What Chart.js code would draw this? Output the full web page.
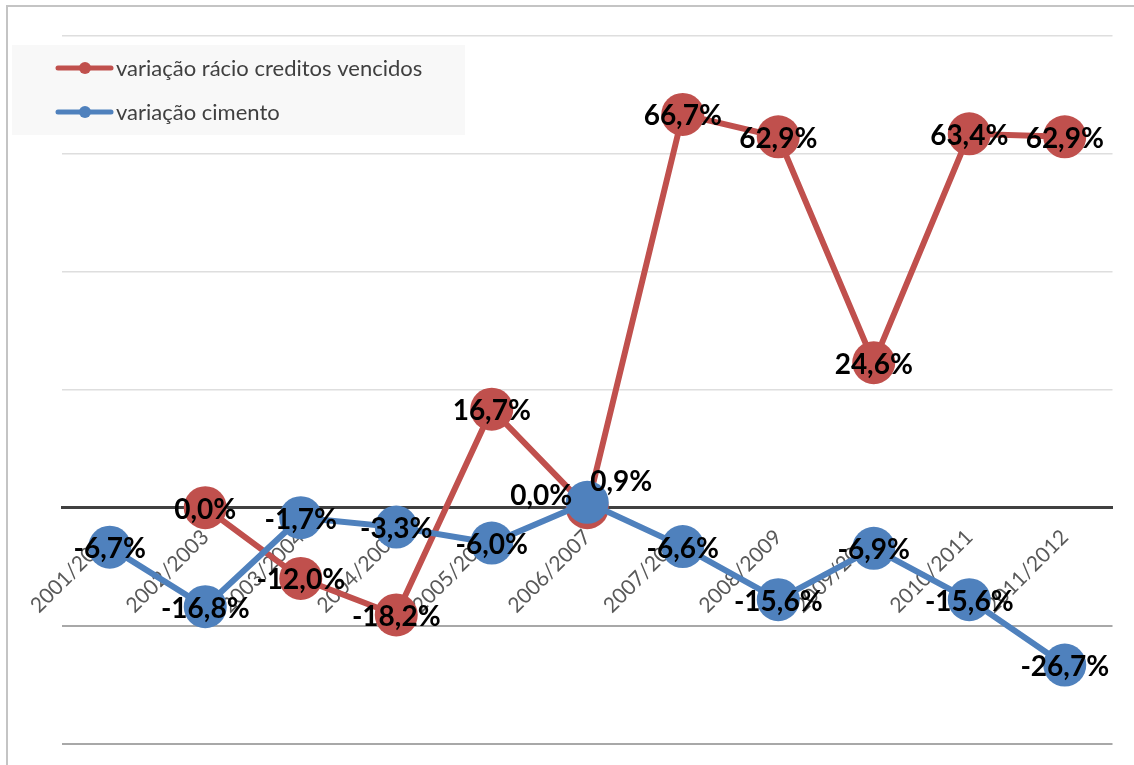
<!DOCTYPE html>
<html>
<head>
    <title>Variação</title>
    <script src="https://cdn.jsdelivr.net/npm/chart.js"></script>
    <style>
        body { margin: 0; background: #fff; }
    </style>
</head>
<body>
    <canvas id="grafico" width="1134" height="765"></canvas>

    <script>
        // Dados
        const anos = ['2001/2002', '2002/2003', '2003/2004', '2004/2005', '2005/2006', '2006/2007',
                      '2007/2008', '2008/2009', '2009/2010', '2010/2011', '2011/2012'];
        const creditosVencidos = [null, 0.0, -12.0, -18.2, 16.7, 0.0, 66.7, 62.9, 24.6, 63.4, 62.9];
        const cimento = [-6.7, -16.8, -1.7, -3.3, -6.0, 0.9, -6.6, -15.6, -6.9, -15.6, -26.7];
        const nomes = ['variação rácio creditos vencidos', 'variação cimento'];

        const vermelho = '#C0504D';
        const azul = '#4F81BD';

        // deslocamento manual de alguns rótulos que se sobrepõem
        const ajusteRotulos = { '0-5': [-46, -12], '1-5': [34, -20] };

        const fmt = v => v.toFixed(1).replace('.', ',') + '%';

        // moldura exterior
        const moldura = {
            id: 'moldura',
            beforeDraw(chart) {
                const c = chart.ctx;
                c.save();
                c.fillStyle = '#fff';
                c.fillRect(0, 0, chart.width, chart.height);
                c.strokeStyle = '#C4C4C4';
                c.lineWidth = 2;
                c.strokeRect(7, 6, chart.width + 20, chart.height + 20);
                c.restore();
            }
        };

        // rótulos dos valores, centrados nos pontos
        const rotulos = {
            id: 'rotulos',
            afterDatasetsDraw(chart) {
                const c = chart.ctx;
                c.save();
                c.font = 'bold 28px Lato, "DejaVu Sans", sans-serif';
                c.fillStyle = '#000';
                c.textAlign = 'center';
                c.textBaseline = 'middle';
                chart.data.datasets.forEach((ds, di) => {
                    const meta = chart.getDatasetMeta(di);
                    meta.data.forEach((pt, i) => {
                        const v = ds.data[i];
                        if (v === null) return;
                        const adj = ajusteRotulos[di + '-' + i] || [0, 2];
                        c.fillText(fmt(v), pt.x + adj[0], pt.y + adj[1]);
                    });
                });
                c.restore();
            }
        };

        // legenda em caixa cinzenta no canto superior esquerdo
        const legenda = {
            id: 'legenda',
            afterDraw(chart) {
                const c = chart.ctx;
                c.save();
                c.fillStyle = '#F8F8F8';
                c.fillRect(12, 45, 453, 90);
                const cores = [vermelho, azul];
                nomes.forEach((nome, i) => {
                    const y = 68 + i * 44;
                    c.strokeStyle = cores[i];
                    c.lineWidth = 5;
                    c.lineCap = 'round';
                    c.beginPath();
                    c.moveTo(58, y);
                    c.lineTo(111, y);
                    c.stroke();
                    c.fillStyle = cores[i];
                    c.beginPath();
                    c.arc(85, y, 6, 0, Math.PI * 2);
                    c.fill();
                    c.fillStyle = '#404040';
                    c.font = '22px Lato, "DejaVu Sans", sans-serif';
                    c.textBaseline = 'middle';
                    c.fillText(nome, 116, y + 1);
                });
                c.restore();
            }
        };

        const ctx = document.getElementById('grafico').getContext('2d');
        const grafico = new Chart(ctx, {
            type: 'line',
            data: {
                labels: anos,
                datasets: [{
                    label: nomes[0],
                    data: creditosVencidos,
                    borderColor: vermelho,
                    backgroundColor: vermelho,
                    borderWidth: 6,
                    pointRadius: 21.5,
                    pointHoverRadius: 21.5,
                    pointBorderWidth: 0,
                    order: 1
                }, {
                    label: nomes[1],
                    data: cimento,
                    borderColor: azul,
                    backgroundColor: azul,
                    borderWidth: 6,
                    pointRadius: 21.5,
                    pointHoverRadius: 21.5,
                    pointBorderWidth: 0,
                    order: 0
                }]
            },
            options: {
                responsive: false,
                animation: false,
                layout: { padding: { left: 62, right: 21, top: 36, bottom: 20 } },
                plugins: {
                    legend: { display: false },
                    tooltip: { enabled: false }
                },
                scales: {
                    x: {
                        position: { y: 0 },
                        offset: true,
                        grid: { display: false, drawTicks: false },
                        border: { display: true, color: '#404040', width: 3 },
                        ticks: {
                            minRotation: 45,
                            maxRotation: 45,
                            padding: 17,
                            color: '#595959',
                            font: { family: 'Lato, "DejaVu Sans", sans-serif', size: 21 }
                        },
                        afterFit: s => { s.height = 0; }
                    },
                    y: {
                        min: -40,
                        max: 80,
                        ticks: { display: false, stepSize: 20 },
                        border: { display: false },
                        grid: {
                            drawTicks: false,
                            color: c => c.tick && c.tick.value < 0 ? '#A8A8A8' : '#DEDEDE',
                            lineWidth: c => c.tick && c.tick.value < 0 ? 2 : 1.5
                        },
                        afterFit: s => { s.width = 0; }
                    }
                }
            },
            plugins: [moldura, rotulos, legenda]
        });
    </script>
</body>
</html>
